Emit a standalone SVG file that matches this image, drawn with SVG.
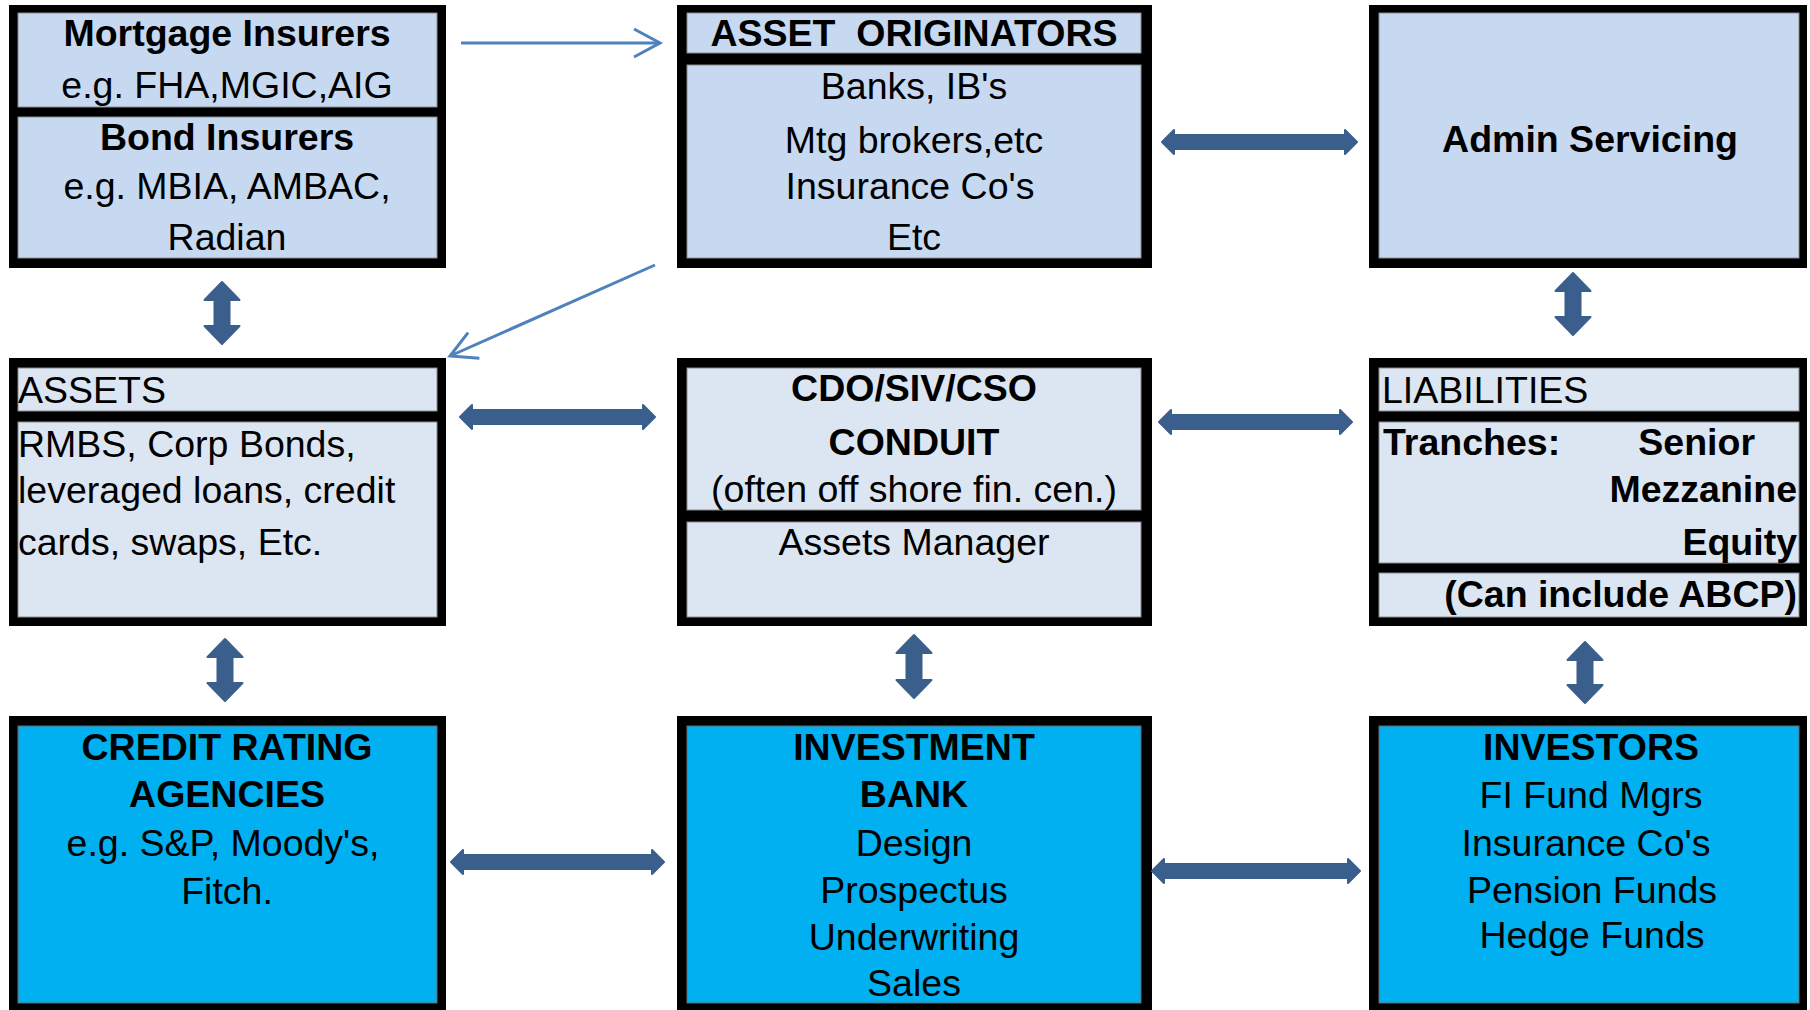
<svg xmlns="http://www.w3.org/2000/svg" width="1810" height="1010" viewBox="0 0 1810 1010">
<defs>
<style>
text{font-family:"Liberation Sans",Arial,Helvetica,sans-serif;font-size:37.5px;fill:#000}
.b{font-weight:bold}
.c{text-anchor:middle}
.e{text-anchor:end}
.frame{fill:#000}
.top{fill:#c6d9f1;stroke:#8a8a8a;stroke-width:1}
.mid{fill:#dce6f2;stroke:#8a8a8a;stroke-width:1}
.low{fill:#00b0f0;stroke:#6a6a6a;stroke-width:1}
.dbl{fill:#3a5f8c;stroke:#3a5f8c;stroke-width:2;stroke-linejoin:round}
.thin{stroke:#4f81bd;stroke-width:3;fill:none}
</style>
<marker id="openArrow" viewBox="0 0 30 30" refX="26" refY="15" markerWidth="30" markerHeight="30" markerUnits="userSpaceOnUse" orient="auto" overflow="visible">
<path d="M0,1 L26,15 L0,29" fill="none" stroke="#4f81bd" stroke-width="3"/>
</marker>
</defs>
<rect width="1810" height="1010" fill="#fff"/>

<g id="insurers">
<rect class="frame" x="9" y="5" width="437" height="263"/>
<rect class="top" x="18" y="13" width="419" height="94"/>
<rect class="top" x="18" y="117" width="419" height="141"/>
<text class="b c" x="227" y="46">Mortgage Insurers</text>
<text class="c" x="227" y="98">e.g. FHA,MGIC,AIG</text>
<text class="b c" x="227" y="150">Bond Insurers</text>
<text class="c" x="227" y="199">e.g. MBIA, AMBAC,</text>
<text class="c" x="227" y="250">Radian</text>
</g>

<g id="asset-originators">
<rect class="frame" x="677" y="5" width="475" height="263"/>
<rect class="top" x="687" y="13" width="454" height="40"/>
<rect class="top" x="687" y="65" width="454" height="193"/>
<text class="b c" x="914" y="46" style="white-space:pre">ASSET  ORIGINATORS</text>
<text class="c" x="914" y="99">Banks, IB's</text>
<text class="c" x="914" y="153">Mtg brokers,etc</text>
<text class="c" x="910" y="199">Insurance Co's</text>
<text class="c" x="914" y="250">Etc</text>
</g>

<g id="admin-servicing">
<rect class="frame" x="1369" y="5" width="438" height="263"/>
<rect class="top" x="1379" y="13" width="420" height="245"/>
<text class="b c" x="1590" y="152">Admin Servicing</text>
</g>

<g id="assets">
<rect class="frame" x="9" y="358" width="437" height="268"/>
<rect class="mid" x="18" y="368" width="419" height="43"/>
<rect class="mid" x="18" y="422" width="419" height="195"/>
<text x="18" y="403">ASSETS</text>
<text x="18" y="457">RMBS, Corp Bonds,</text>
<text x="18" y="503">leveraged loans, credit</text>
<text x="18" y="555">cards, swaps, Etc.</text>
</g>

<g id="cdo-conduit">
<rect class="frame" x="677" y="358" width="475" height="268"/>
<rect class="mid" x="687" y="368" width="454" height="142"/>
<rect class="mid" x="687" y="522" width="454" height="95"/>
<text class="b c" x="914" y="401">CDO/SIV/CSO</text>
<text class="b c" x="914" y="455">CONDUIT</text>
<text class="c" x="914" y="502">(often off shore fin. cen.)</text>
<text class="c" x="914" y="555">Assets Manager</text>
</g>

<g id="liabilities">
<rect class="frame" x="1369" y="358" width="438" height="268"/>
<rect class="mid" x="1379" y="368" width="420" height="43"/>
<rect class="mid" x="1379" y="422" width="420" height="141"/>
<rect class="mid" x="1379" y="573" width="420" height="44"/>
<text x="1382" y="403">LIABILITIES</text>
<text class="b" x="1383" y="455">Tranches:</text>
<text class="b e" x="1755" y="455">Senior</text>
<text class="b e" x="1797" y="502">Mezzanine</text>
<text class="b e" x="1797" y="555">Equity</text>
<text class="b e" x="1797" y="607">(Can include ABCP)</text>
</g>

<g id="credit-rating-agencies">
<rect class="frame" x="9" y="716" width="437" height="300"/>
<rect class="low" x="18" y="726" width="419" height="277"/>
<text class="b c" x="227" y="760">CREDIT RATING</text>
<text class="b c" x="227" y="807">AGENCIES</text>
<text class="c" x="223" y="856">e.g. S&amp;P, Moody's,</text>
<text class="c" x="227" y="904">Fitch.</text>
</g>

<g id="investment-bank">
<rect class="frame" x="677" y="716" width="475" height="300"/>
<rect class="low" x="687" y="726" width="454" height="277"/>
<text class="b c" x="914" y="760">INVESTMENT</text>
<text class="b c" x="914" y="807">BANK</text>
<text class="c" x="914" y="856">Design</text>
<text class="c" x="914" y="903">Prospectus</text>
<text class="c" x="914" y="950">Underwriting</text>
<text class="c" x="914" y="996">Sales</text>
</g>

<g id="investors">
<rect class="frame" x="1369" y="716" width="438" height="300"/>
<rect class="low" x="1379" y="726" width="420" height="277"/>
<text class="b c" x="1591" y="760">INVESTORS</text>
<text class="c" x="1591" y="808">FI Fund Mgrs</text>
<text class="c" x="1586" y="856">Insurance Co's</text>
<text class="c" x="1592" y="903">Pension Funds</text>
<text class="c" x="1592" y="948">Hedge Funds</text>
</g>

<g id="connectors">
<line class="thin" x1="461" y1="43" x2="660" y2="43" marker-end="url(#openArrow)"/>
<line class="thin" x1="655" y1="265" x2="450" y2="356" marker-end="url(#openArrow)"/>
<polygon class="dbl" points="1162,142 1174,130 1174,135 1345,135 1345,130 1357,142 1345,154 1345,149 1174,149 1174,154"/>
<polygon class="dbl" points="460,417 472,405 472,410 643,410 643,405 655,417 643,429 643,424 472,424 472,429"/>
<polygon class="dbl" points="1159,422 1171,410 1171,415 1340,415 1340,410 1352,422 1340,434 1340,429 1171,429 1171,434"/>
<polygon class="dbl" points="451,862 463,850 463,855 652,855 652,850 664,862 652,874 652,869 463,869 463,874"/>
<polygon class="dbl" points="1152,871 1164,859 1164,864 1348,864 1348,859 1360,871 1348,883 1348,878 1164,878 1164,883"/>
<polygon class="dbl" points="222,282 239.5,300 229.5,300 229.5,326 239.5,326 222,344 204.5,326 214.5,326 214.5,300 204.5,300"/>
<polygon class="dbl" points="1573,273 1590.5,291 1580.5,291 1580.5,317 1590.5,317 1573,335 1555.5,317 1565.5,317 1565.5,291 1555.5,291"/>
<polygon class="dbl" points="225,639 242.5,657 232.5,657 232.5,683 242.5,683 225,701 207.5,683 217.5,683 217.5,657 207.5,657"/>
<polygon class="dbl" points="914,635 931.5,653 921.5,653 921.5,680 931.5,680 914,698 896.5,680 906.5,680 906.5,653 896.5,653"/>
<polygon class="dbl" points="1585,642 1602.5,660 1592.5,660 1592.5,685 1602.5,685 1585,703 1567.5,685 1577.5,685 1577.5,660 1567.5,660"/>
</g>
</svg>
